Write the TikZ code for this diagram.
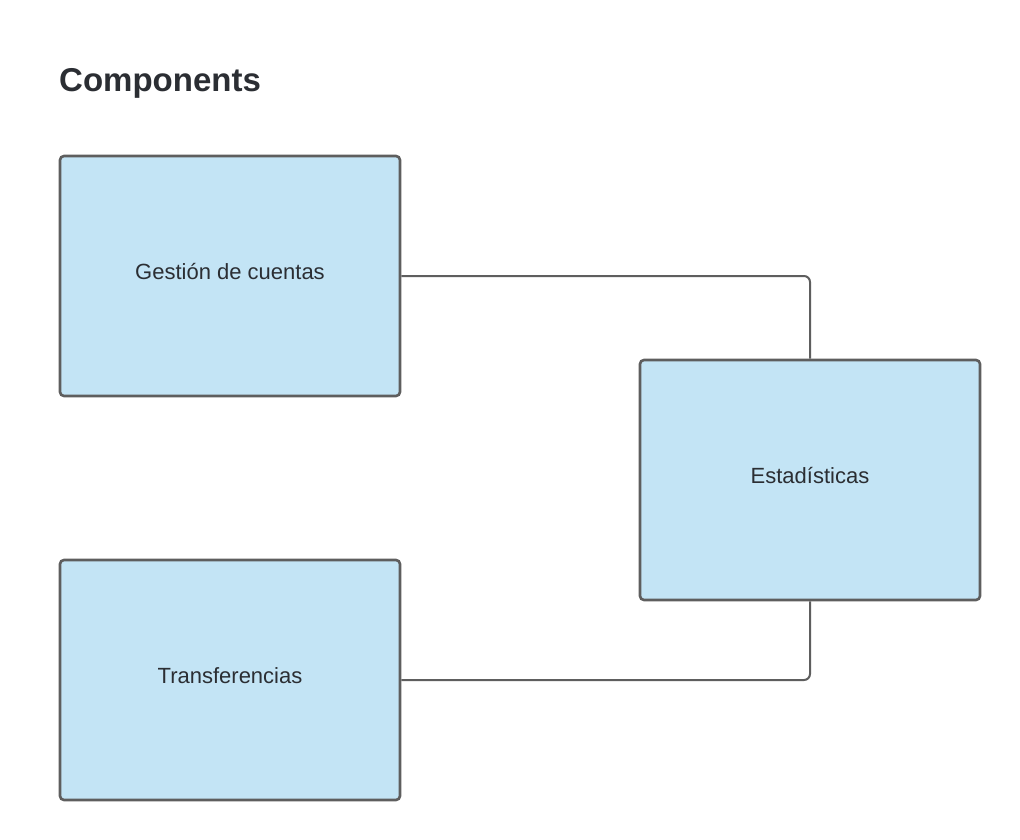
\documentclass[tikz,border=0pt]{standalone}
\usepackage{fontspec}
\setmainfont{Liberation Sans}
\definecolor{boxfill}{HTML}{C3E4F5}
\definecolor{boxline}{HTML}{5E5E5E}
\definecolor{txt}{HTML}{2B2E33}
\tikzset{
  comp/.style={draw=boxline, fill=boxfill, line width=2.6pt, rounded corners=4pt,
    minimum width=340pt, minimum height=240pt, inner sep=0pt,
    text height=12pt, text depth=5pt,
    font=\fontsize{22}{24}\selectfont, text=txt},
  link/.style={draw=boxline, line width=2pt, rounded corners=6pt},
}
\begin{document}
\begin{tikzpicture}[x=1pt,y=-1pt]
\useasboundingbox[fill=white] (0,0) rectangle (1020,840);
\node[anchor=base west, font=\bfseries\fontsize{33}{36}\selectfont, text=txt, inner sep=0pt] (title) at (59,92) {Components};
\node[comp] (gest) at (230,276) {Gestión de cuentas};
\node[comp] (est) at (810,480) {Estadísticas};
\node[comp] (trans) at (230,680) {Transferencias};
\draw[link] (gest.east) -| (est.north);
\draw[link] (trans.east) -| (est.south);
\end{tikzpicture}
\end{document}
